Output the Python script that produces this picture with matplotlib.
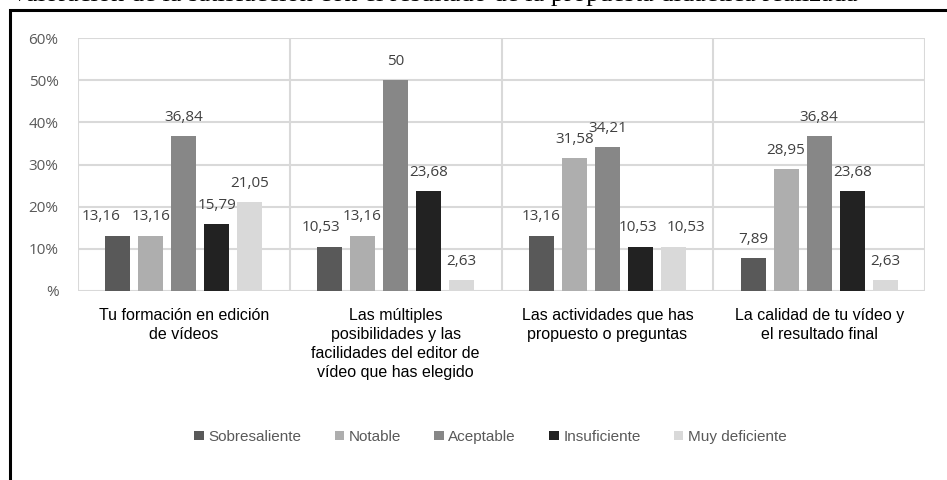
import numpy as np
import matplotlib
matplotlib.use("Agg")
from matplotlib import pyplot as plt
from matplotlib.patches import Rectangle

categories = ["Tu formación en edición\nde vídeos",
              "Las múltiples\nposibilidades y las\nfacilidades del editor de\nvídeo que has elegido",
              "Las actividades que has\npropuesto o preguntas",
              "La calidad de tu vídeo y\nel resultado final"]
series_names = ["Sobresaliente", "Notable", "Aceptable", "Insuficiente", "Muy deficiente"]
sobresaliente = [13.16, 10.53, 13.16, 7.89]
notable = [13.16, 13.16, 31.58, 28.95]
aceptable = [36.84, 50, 34.21, 36.84]
insuficiente = [15.79, 23.68, 10.53, 23.68]
muy_deficiente = [21.05, 2.63, 10.53, 2.63]
yticks = [0, 10, 20, 30, 40, 50, 60]
ytick_labels = ["%", "10%", "20%", "30%", "40%", "50%", "60%"]

series = [sobresaliente, notable, aceptable, insuficiente, muy_deficiente]
colors = ["#595959", "#aeaeae", "#878787", "#222222", "#d9d9d9"]
# small sideways nudges (points) of crowded value labels: (series, category) -> dx
nudge = {(0, 0): -12, (0, 1): -6, (4, 2): 9, (3, 2): -2}

plt.rcParams['font.family'] = ['Open Sans', 'DejaVu Sans']

fig = plt.figure(figsize=(9.47, 4.80), dpi=100)

# title, only its lower part shows at the top edge
fig.text(10/947, 1 - 1/480, "Valoración de la satisfacción con el resultado de la propuesta didáctica realizada",
         family=['Liberation Serif', 'DejaVu Serif'], fontsize=19, va='baseline', ha='left')

# frame around the chart
fig.patches.append(Rectangle((10/947, -0.1), 1.2, 1 - 10/480 + 0.1, transform=fig.transFigure,
                             fill=False, edgecolor='black', linewidth=2.2))

ax = fig.add_axes([78/947, 1 - 291/480, (925 - 78)/947, (291 - 38)/480])

x = np.arange(len(categories))
step = 0.156
width = 0.118
for i, (name, vals, c) in enumerate(zip(series_names, series, colors)):
    pos = x + (i - 2) * step
    ax.bar(pos, vals, width, color=c, label=name, zorder=3)
    for j, (p, v) in enumerate(zip(pos, vals)):
        ax.annotate(f"{v:g}".replace('.', ','), (p, v), xytext=(nudge.get((i, j), 0), 8),
                    textcoords='offset points', ha='center', va='bottom', fontsize=11, color='#404040')

ax.set_xlim(-0.5, 3.5)
ax.set_ylim(0, 60)
ax.set_yticks(yticks)
ax.set_yticklabels(ytick_labels, color='#595959', fontsize=11)
ax.set_xticks(x)
ax.set_xticklabels(categories, family=['Liberation Sans Narrow', 'Liberation Sans', 'DejaVu Sans'],
                   fontsize=11.5, linespacing=1.35)
ax.set_xticks(np.arange(-0.5, 4, 1), minor=True)
ax.tick_params(axis='both', which='both', length=0)
ax.tick_params(axis='y', pad=14)
ax.tick_params(axis='x', pad=12)
ax.grid(axis='y', color='#d9d9d9', linewidth=1.5, zorder=0)
ax.grid(axis='x', which='minor', color='#d9d9d9', linewidth=1.5, zorder=0)
ax.grid(axis='x', which='major', visible=False)
for s in ax.spines.values():
    s.set_visible(False)

fig.legend(loc='center', bbox_to_anchor=(0.518, 1 - 437/480), ncol=5, frameon=False,
           handlelength=0.6, handleheight=0.6, handletextpad=0.3, columnspacing=2.2,
           prop={'family': ['Liberation Sans Narrow', 'Liberation Sans', 'DejaVu Sans'], 'size': 11},
           labelcolor='#595959')

fig.savefig("out.png", dpi=100)
